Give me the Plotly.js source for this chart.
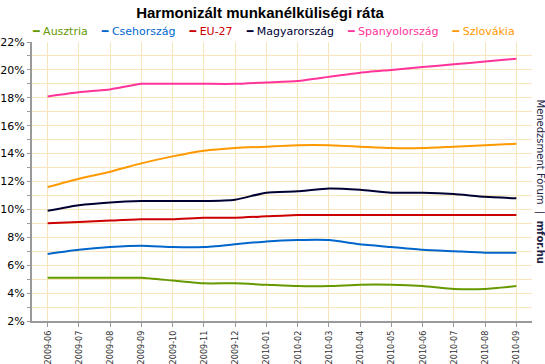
<!DOCTYPE html>
<html>
<head>
<meta charset="utf-8">
<script src="https://cdn.plot.ly/plotly-3.0.1.min.js"></script>
<style>html,body{margin:0;padding:0;background:#fff;}#chart{width:545px;height:364px;}</style>
</head>
<body>
<div id="chart"></div>
<script>
var months = ["2009-06","2009-07","2009-08","2009-09","2009-10","2009-11","2009-12","2010-01","2010-02","2010-03","2010-04","2010-05","2010-06","2010-07","2010-08","2010-09"];
var seriesNames = ["Ausztria","Csehország","EU-27","Magyarország","Spanyolország","Szlovákia"];
var seriesColors = ["#669900","#0066cc","#cc0000","#000033","#ff3399","#ff9900"];
var ausztria      = [5.1,5.1,5.1,5.1,4.9,4.7,4.7,4.6,4.5,4.5,4.6,4.6,4.5,4.3,4.3,4.5];
var csehorszag    = [6.8,7.1,7.3,7.4,7.3,7.3,7.5,7.7,7.8,7.8,7.5,7.3,7.1,7.0,6.9,6.9];
var eu27          = [9.0,9.1,9.2,9.3,9.3,9.4,9.4,9.5,9.6,9.6,9.6,9.6,9.6,9.6,9.6,9.6];
var magyarorszag  = [9.9,10.3,10.5,10.6,10.6,10.6,10.7,11.2,11.3,11.5,11.4,11.2,11.2,11.1,10.9,10.8];
var spanyolorszag = [18.1,18.4,18.6,19.0,19.0,19.0,19.0,19.1,19.2,19.5,19.8,20.0,20.2,20.4,20.6,20.8];
var szlovakia     = [11.6,12.2,12.7,13.3,13.8,14.2,14.4,14.5,14.6,14.6,14.5,14.4,14.4,14.5,14.6,14.7];
var yTickVals = [2,4,6,8,10,12,14,16,18,20,22];
var yTickText = ["2%","4%","6%","8%","10%","12%","14%","16%","18%","20%","22%"];

var allValues = [ausztria, csehorszag, eu27, magyarorszag, spanyolorszag, szlovakia];
var traces = allValues.map(function(vals, i){
  return {
    x: months, y: vals, type: "scatter", mode: "lines", name: seriesNames[i],
    line: {color: seriesColors[i], width: 2, shape: "spline", smoothing: 0.5},
    showlegend: false, hoverinfo: "x+y+name"
  };
});

var legendText = seriesNames.map(function(n, i){
  return '<span style="color:' + seriesColors[i] + '">━ ' + n + '</span>';
}).join('&nbsp;&nbsp;&nbsp;&nbsp;');

var layout = {
  width: 545, height: 364,
  margin: {l: 32, r: 13, t: 42, b: 43, pad: 0},
  paper_bgcolor: "#ffffff", plot_bgcolor: "#ffffff",
  font: {family: "DejaVu Sans, Verdana, sans-serif", size: 11, color: "#000"},
  title: {text: "<b>Harmonizált munkanélküliségi ráta</b>", font: {family: "Liberation Sans, Arial, sans-serif", size: 15, color: "#000"},
          x: 0.477, xref: "container", xanchor: "center", y: 0.965, yref: "container", yanchor: "middle"},
  xaxis: {
    type: "category", range: [-0.5, 15.5], tickangle: -90,
    tickfont: {size: 9, color: "#333", family: "DejaVu Sans Condensed, DejaVu Sans, sans-serif"},
    showgrid: true, gridcolor: "#f7e6bd", gridwidth: 1,
    showline: true, linecolor: "#999", linewidth: 2,
    ticks: "outside", ticklen: 4, tickcolor: "#999", zeroline: false, fixedrange: true
  },
  yaxis: {
    range: [2, 22], tickvals: yTickVals, ticktext: yTickText,
    tickfont: {size: 11, color: "#000"},
    showgrid: true, gridcolor: "#f7e6bd", gridwidth: 1,
    minor: {dtick: 1, showgrid: true, gridcolor: "#f7e6bd", ticks: "outside", ticklen: 3, tickcolor: "#999"},
    showline: true, linecolor: "#999", linewidth: 2,
    ticks: "outside", ticklen: 3, tickcolor: "#999", zeroline: false, fixedrange: true
  },
  annotations: [
    {text: legendText, xref: "paper", yref: "paper", x: 0, xanchor: "left", y: 1.0, yanchor: "bottom", yshift: 2, xshift: -2,
     showarrow: false, font: {size: 11, family: "DejaVu Sans, Verdana, sans-serif"}},
    {text: "Menedzsment Fórum  |  <b>mfor.hu</b>", xref: "paper", yref: "paper", x: 1, xanchor: "left", xshift: 0,
     y: 0.5, yanchor: "middle", yshift: 0, textangle: 90, showarrow: false,
     font: {size: 10, color: "#222244", family: "DejaVu Sans, Verdana, sans-serif"}}
  ]
};

Plotly.newPlot("chart", traces, layout, {displayModeBar: false, staticPlot: true});
</script>
</body>
</html>
